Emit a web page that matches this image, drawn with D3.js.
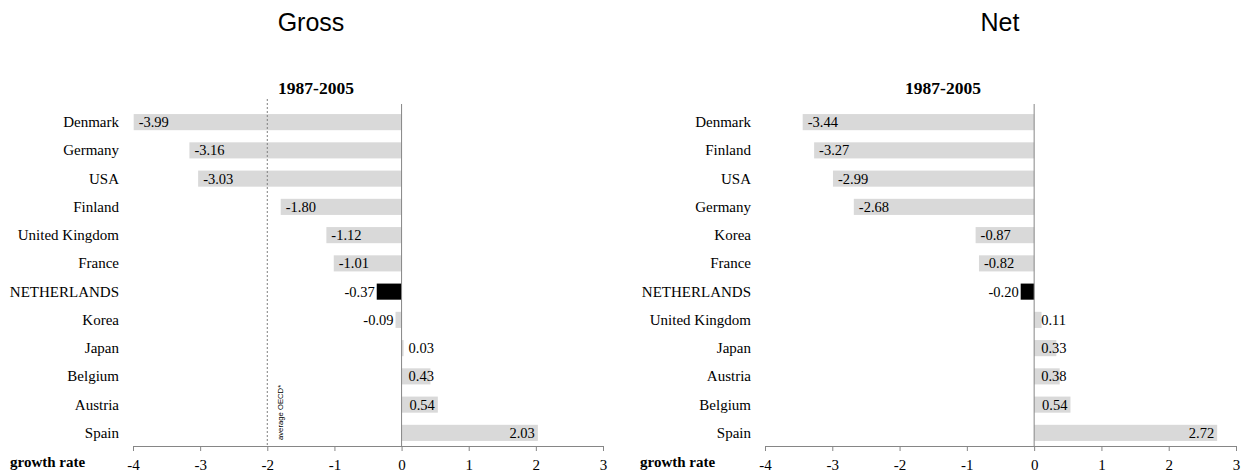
<!DOCTYPE html>
<html>
<head>
<meta charset="utf-8">
<script src="https://cdn.jsdelivr.net/npm/d3@7"></script>
<style>
  body { margin: 0; background: #fff; }
  text { font-family: "Liberation Serif", "Times New Roman", serif; }
</style>
</head>
<body>
<script>
// gross panel
var grossCountries = ["Denmark", "Germany", "USA", "Finland", "United Kingdom", "France",
                      "NETHERLANDS", "Korea", "Japan", "Belgium", "Austria", "Spain"];
var grossValues = [-3.99, -3.16, -3.03, -1.80, -1.12, -1.01, -0.37, -0.09, 0.03, 0.43, 0.54, 2.03];

// net panel
var netCountries = ["Denmark", "Finland", "USA", "Germany", "Korea", "France",
                    "NETHERLANDS", "United Kingdom", "Japan", "Austria", "Belgium", "Spain"];
var netValues = [-3.44, -3.27, -2.99, -2.68, -0.87, -0.82, -0.20, 0.11, 0.33, 0.38, 0.54, 2.72];

var xTicks = [-4, -3, -2, -1, 0, 1, 2, 3];
var oecdAverage = -2;

var svg = d3.select("body").append("svg")
    .attr("width", 1249)
    .attr("height", 476);

function drawPanel(opt) {
  var x = d3.scaleLinear().domain([-4, 3]).range([opt.x0, opt.x1]);
  var y = d3.scaleBand().domain(opt.countries).range([108, 447]).paddingInner(0.43).paddingOuter(0.215);
  var g = svg.append("g");

  g.append("text")
    .attr("x", opt.titleX).attr("y", 31)
    .attr("text-anchor", "middle")
    .style("font-family", "Arial, 'Liberation Sans', sans-serif")
    .style("font-size", "25px")
    .text(opt.title);

  g.append("text")
    .attr("x", opt.periodX).attr("y", 94)
    .attr("text-anchor", "middle")
    .style("font-size", "17.5px").style("font-weight", "bold")
    .text("1987-2005");

  var data = opt.countries.map(function(c, i) { return { c: c, v: opt.values[i] }; });

  g.selectAll("rect.bar").data(data).enter().append("rect")
    .attr("class", "bar")
    .attr("x", function(d) { return x(Math.min(0, d.v)); })
    .attr("y", function(d) { return y(d.c); })
    .attr("width", function(d) { return Math.abs(x(d.v) - x(0)); })
    .attr("height", y.bandwidth())
    .attr("fill", function(d) { return d.c == "NETHERLANDS" ? "#000" : "#d9d9d9"; });

  if (opt.average) {
    g.append("line")
      .attr("x1", x(oecdAverage)).attr("x2", x(oecdAverage))
      .attr("y1", 99).attr("y2", 447)
      .attr("stroke", "#7f7f7f").attr("stroke-dasharray", "2,2").attr("stroke-width", 1);
    g.append("text")
      .attr("transform", "translate(" + (x(oecdAverage) + 16) + ",440) rotate(-90)")
      .style("font-family", "Arial, 'Liberation Sans', sans-serif")
      .style("font-size", "7.7px")
      .text("average OECD*");
  }

  // value labels
  g.selectAll("text.val").data(data).enter().append("text")
    .attr("class", "val")
    .style("font-size", "14.5px")
    .attr("y", function(d) { return y(d.c) + y.bandwidth() / 2 + 5; })
    .text(function(d) { return d.v.toFixed(2); })
    .each(function(d) {
      var t = d3.select(this), w = this.getComputedTextLength();
      if (d.v >= 0) {
        t.attr("x", Math.max(x(0) + 7, x(d.v) - 3 - w));
      } else if (x(0) - x(d.v) >= w + 10) {
        t.attr("x", x(d.v) + 5);
      } else {
        t.attr("x", Math.min(x(d.v) - 2, x(0) - 4) - w);
      }
    });

  // category labels
  g.selectAll("text.cat").data(data).enter().append("text")
    .attr("class", "cat")
    .attr("x", opt.x0 - 14)
    .attr("y", function(d) { return y(d.c) + y.bandwidth() / 2 + 5; })
    .attr("text-anchor", "end")
    .style("font-size", "15px")
    .text(function(d) { return d.c; });

  // zero line
  g.append("line")
    .attr("x1", x(0)).attr("x2", x(0)).attr("y1", 104).attr("y2", 447)
    .attr("stroke", "#868686");

  var axis = g.append("g")
    .attr("transform", "translate(0,446)")
    .call(d3.axisBottom(x).tickValues(xTicks).tickSize(5).tickPadding(8).tickFormat(d3.format("d")));
  axis.select(".domain").attr("stroke", "#868686");
  axis.selectAll(".tick line").attr("stroke", "#868686");
  axis.selectAll(".tick text")
    .style("font-family", "'Liberation Serif', 'Times New Roman', serif")
    .style("font-size", "15px").attr("fill", "#000")
    .text(function(d) { return d < 0 ? "-" + Math.abs(d) : d; });

  g.append("text")
    .attr("x", opt.rateX).attr("y", 467)
    .style("font-size", "15px").style("font-weight", "bold")
    .text("growth rate");
}

drawPanel({ countries: grossCountries, values: grossValues, x0: 133, x1: 603,
            title: "Gross", titleX: 311, periodX: 316, rateX: 10, average: true });
drawPanel({ countries: netCountries, values: netValues, x0: 765, x1: 1236,
            title: "Net", titleX: 1000, periodX: 943, rateX: 640, average: false });
</script>
</body>
</html>
